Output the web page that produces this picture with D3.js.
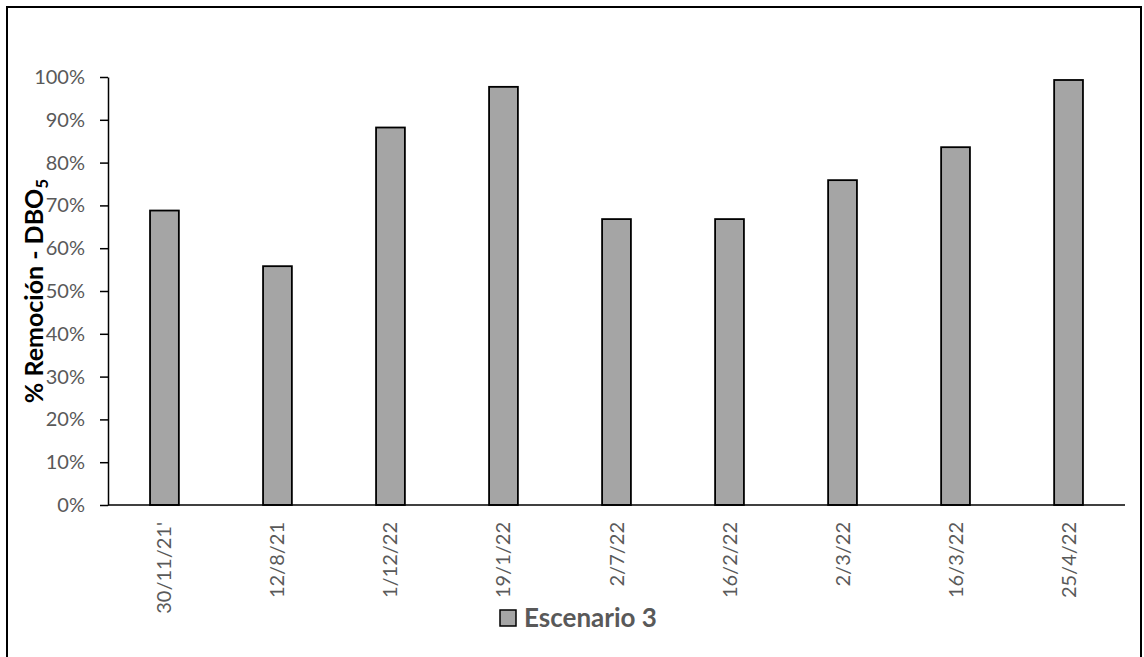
<!DOCTYPE html>
<html>
<head>
<meta charset="utf-8">
<script src="https://cdn.jsdelivr.net/npm/d3@7"></script>
<style>
  html, body { margin: 0; padding: 0; background: #fff; }
  svg { display: block; }
</style>
</head>
<body>
<div id="chart"></div>
<script>
// Sampling dates and BOD5 removal for scenario 3
const categories = ["30/11/21'", "12/8/21", "1/12/22", "19/1/22", "2/7/22", "16/2/22", "2/3/22", "16/3/22", "25/4/22"];
const removal = [0.688, 0.558, 0.882, 0.977, 0.668, 0.668, 0.759, 0.836, 0.993];
const yTicks = [0, 0.1, 0.2, 0.3, 0.4, 0.5, 0.6, 0.7, 0.8, 0.9, 1.0];
const seriesName = "Escenario 3";

const W = 1144, H = 657;
const font = "Lato, 'Open Sans', 'Liberation Sans', sans-serif";
const margin = { left: 108, right: 19, top: 77, bottom: 152 };

const svg = d3.select("#chart").append("svg")
  .attr("width", W).attr("height", H);

// outer chart frame
svg.append("rect")
  .attr("x", 7).attr("y", 7)
  .attr("width", 1134).attr("height", 660)
  .attr("fill", "#fff").attr("stroke", "#000").attr("stroke-width", 2);

const x = d3.scaleBand()
  .domain(categories)
  .range([margin.left, W - margin.right])
  .paddingInner(0.745).paddingOuter(0.372);

const y = d3.scaleLinear()
  .domain([0, 1])
  .range([H - margin.bottom, margin.top]);

// bars
svg.append("g").selectAll("rect")
  .data(categories.map((c, i) => ({ c, v: removal[i] })))
  .join("rect")
  .attr("x", d => x(d.c))
  .attr("y", d => y(d.v))
  .attr("width", x.bandwidth())
  .attr("height", d => y(0) - y(d.v))
  .attr("fill", "#a5a5a5")
  .attr("stroke", "#000")
  .attr("stroke-width", 1.8);

// y axis
const yAxis = svg.append("g")
  .attr("transform", `translate(${margin.left},0)`)
  .call(d3.axisLeft(y).tickValues(yTicks).tickFormat(d3.format(".0%")).tickSize(8).tickSizeOuter(0));
yAxis.select(".domain").attr("stroke", "#000").attr("stroke-width", 1.5);
yAxis.selectAll(".tick line").attr("stroke", "#000").attr("stroke-width", 1.5);
yAxis.selectAll(".tick text")
  .attr("x", -23)
  .attr("fill", "#595959")
  .style("font-family", font)
  .style("font-size", "20px");

// x axis
const xAxis = svg.append("g")
  .attr("transform", `translate(0,${y(0)})`)
  .call(d3.axisBottom(x).tickSize(0).tickSizeOuter(0));
xAxis.select(".domain").attr("stroke", "#000").attr("stroke-width", 1.5)
  .attr("d", `M${margin.left},0H${W - margin.right}`);
xAxis.selectAll(".tick text")
  .attr("transform", "rotate(-90)")
  .attr("x", -17).attr("y", 0).attr("dy", "0.35em")
  .attr("text-anchor", "end")
  .attr("fill", "#595959")
  .style("font-family", font)
  .style("font-size", "20px");

// y axis title
const yTitle = svg.append("text")
  .attr("transform", `translate(43,${(y(0) + y(1)) / 2}) rotate(-90)`)
  .attr("text-anchor", "middle")
  .style("font-family", font)
  .style("font-size", "25px")
  .style("font-weight", "bold")
  .attr("fill", "#000");
yTitle.append("tspan").text("% Remoción - DBO");
yTitle.append("tspan").attr("dy", "0.3em").style("font-size", "17px").text("5");

// legend
svg.append("rect")
  .attr("x", 500).attr("y", 610).attr("width", 16).attr("height", 16)
  .attr("fill", "#a5a5a5").attr("stroke", "#000").attr("stroke-width", 1.5);
svg.append("text")
  .attr("x", 524).attr("y", 627)
  .attr("fill", "#595959")
  .style("font-family", font)
  .style("font-size", "26px")
  .style("font-weight", "bold")
  .text(seriesName);
</script>
</body>
</html>
